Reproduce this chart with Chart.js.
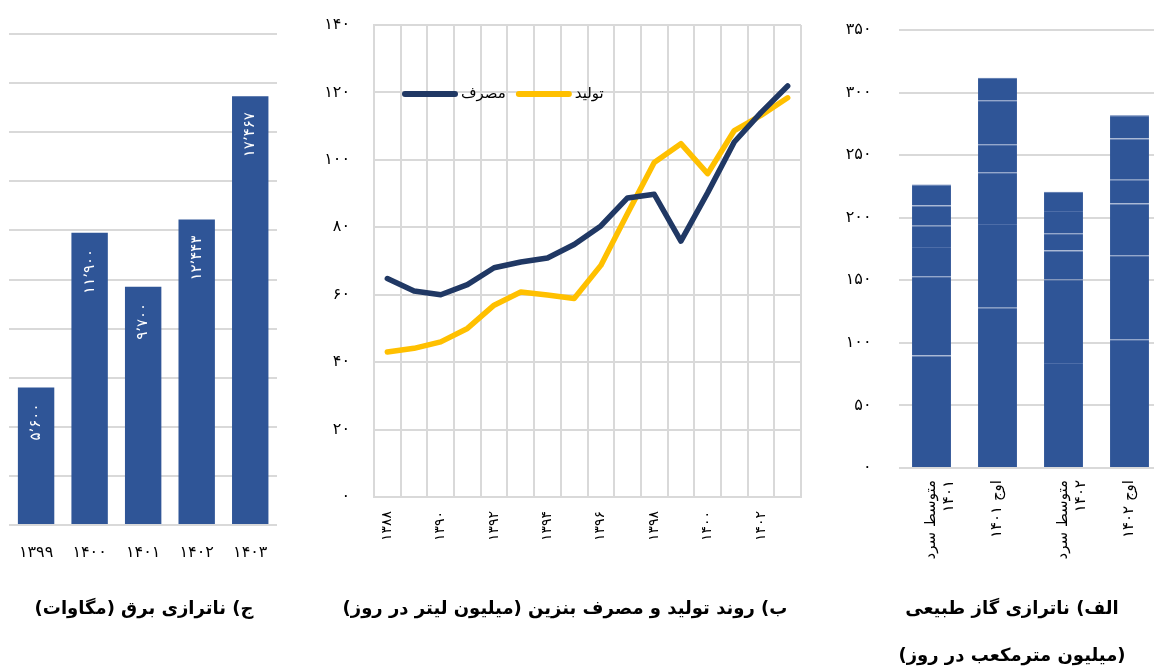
<!DOCTYPE html>
<html>
<head>
<meta charset="utf-8">
<script src="https://cdn.jsdelivr.net/npm/chart.js@4.4.1/dist/chart.umd.min.js"></script>
<style>
  html, body { margin: 0; padding: 0; background: #fff; width: 1154px; height: 671px; overflow: hidden; }
  .panel { position: absolute; top: 0; }
  .title { position: absolute; font-family: "DejaVu Sans"; font-weight: bold; font-size: 18px;
           direction: rtl; white-space: nowrap; transform: translateX(-50%); color: #000; text-align: center; line-height: 47px; }
</style>
</head>
<body>
<div class="panel" style="left:0"><canvas id="power" width="290" height="590"></canvas></div>
<div class="panel" style="left:300px"><canvas id="gasoline" width="520" height="590"></canvas></div>
<div class="panel" style="left:830px"><canvas id="gas" width="340" height="590"></canvas></div>

<div class="title" style="left:144px; top:584px">ج) ناترازی برق (مگاوات)</div>
<div class="title" style="left:565px; top:584px">ب) روند تولید و مصرف بنزین (میلیون لیتر در روز)</div>
<div class="title" style="left:1012px; top:584px">الف) ناترازی گاز طبیعی<br>(میلیون مترمکعب در روز)</div>

<script>
// electricity imbalance (MW)
const powerYears = ['1399', '1400', '1401', '1402', '1403'];
const powerDeficit = [5600, 11900, 9700, 12443, 17467];

// gasoline, million litres per day
const gasolineYears = ['1388', '1389', '1390', '1391', '1392', '1393', '1394', '1395',
                       '1396', '1397', '1398', '1399', '1400', '1401', '1402', '1403'];
const consumption = [64.8, 61.1, 60.0, 63.0, 68.0, 69.7, 70.9, 74.9, 80.4, 88.7, 89.8, 75.9, 90.2, 105.3, 114.0, 121.9];
const production  = [43.0, 44.1, 46.0, 50.0, 56.9, 60.8, 59.9, 58.9, 68.7, 84.1, 99.2, 104.8, 95.9, 108.7, 113.2, 118.4];

// natural gas imbalance, million m3 per day (stacked parts, bottom to top)
const gasCategories = [['متوسط سرد', '1401'], 'اوج 1401', ['متوسط سرد', '1402'], 'اوج 1402'];
const gasPart1 = [89.8, 128.0, 84.0, 102.9];
const gasPart2 = [63.5, 66.9, 66.9, 67.2];
const gasPart3 = [23.2, 41.5, 22.9, 41.3];
const gasPart4 = [17.1, 22.3, 13.7, 18.9];
const gasPart5 = [16.2, 35.1, 17.8, 33.0];
const gasPart6 = [16.8, 18.0, 15.5, 18.6];

const BLUE = '#2F5597';
const GRID = '#D9D9D9';
const FONT = 'DejaVu Sans';

const fa = s => String(s).replace(/\d/g, d => '۰۱۲۳۴۵۶۷۸۹'[d]);
const faNum = n => fa(n.toLocaleString('en-US')).replace(/,/g, '٬');
const faLabel = l => Array.isArray(l) ? l.map(fa) : fa(l);
const noPad = s => { s.paddingTop = 0; s.paddingBottom = 0; };

// white rotated value labels inside bars
const barLabels = {
  id: 'barLabels',
  afterDatasetsDraw(chart) {
    const ctx = chart.ctx;
    const ds = chart.data.datasets[0];
    ctx.save();
    ctx.fillStyle = '#fff';
    ctx.font = '15px "' + FONT + '"';
    ctx.textAlign = 'right';
    ctx.textBaseline = 'middle';
    chart.getDatasetMeta(0).data.forEach((bar, i) => {
      ctx.save();
      ctx.translate(bar.x, bar.y + 16);
      ctx.rotate(-Math.PI / 2);
      ctx.fillText(faNum(ds.data[i]), 0, 0);
      ctx.restore();
    });
    ctx.restore();
  }
};

// legend drawn inside the plot area
const innerLegend = {
  id: 'innerLegend',
  afterDraw(chart) {
    const ctx = chart.ctx;
    const area = chart.chartArea;
    let x = area.left + 28;
    const y = area.top + 69;
    ctx.save();
    ctx.font = '15px "' + FONT + '"';
    ctx.textBaseline = 'middle';
    ctx.textAlign = 'left';
    chart.data.datasets.forEach(ds => {
      ctx.strokeStyle = ds.borderColor;
      ctx.lineWidth = 6;
      ctx.lineCap = 'round';
      ctx.beginPath();
      ctx.moveTo(x + 3, y);
      ctx.lineTo(x + 53, y);
      ctx.stroke();
      x += 59;
      ctx.fillStyle = '#000';
      ctx.fillText(ds.label, x, y);
      x += ctx.measureText(ds.label).width + 10;
    });
    ctx.restore();
  }
};

new Chart(document.getElementById('power'), {
  type: 'bar',
  data: {
    labels: powerYears.map(fa),
    datasets: [{
      label: 'ناترازی برق',
      data: powerDeficit,
      backgroundColor: BLUE,
      barPercentage: 0.68,
      categoryPercentage: 1
    }]
  },
  options: {
    responsive: false,
    animation: false,
    layout: { padding: { left: 9, right: 13, top: 34, bottom: 0 } },
    plugins: { legend: { display: false }, tooltip: { enabled: false } },
    scales: {
      x: {
        grid: { display: false, drawTicks: false },
        border: { display: false },
        ticks: { color: '#000', font: { family: FONT, size: 16 }, padding: 18 },
        afterFit: s => { s.height = 65; }
      },
      y: {
        min: 0, max: 20000,
        ticks: { stepSize: 2000, display: false },
        grid: { color: GRID, lineWidth: 2, drawTicks: false },
        border: { display: false },
        afterFit: s => { s.width = 0; noPad(s); }
      }
    }
  },
  plugins: [barLabels]
});

new Chart(document.getElementById('gasoline'), {
  type: 'line',
  data: {
    labels: gasolineYears.map(fa),
    datasets: [
      { label: 'مصرف', data: consumption, borderColor: '#203864', backgroundColor: '#203864',
        borderWidth: 5.5, pointRadius: 0, tension: 0, borderCapStyle: 'round', borderJoinStyle: 'round' },
      { label: 'تولید', data: production, borderColor: '#FFC000', backgroundColor: '#FFC000',
        borderWidth: 5.5, pointRadius: 0, tension: 0, borderCapStyle: 'round', borderJoinStyle: 'round' }
    ]
  },
  options: {
    responsive: false,
    animation: false,
    layout: { padding: { left: 0, right: 19, top: 25, bottom: 0 } },
    plugins: { legend: { display: false }, tooltip: { enabled: false } },
    scales: {
      x: {
        offset: true,
        grid: { color: GRID, lineWidth: 2, offset: true, drawTicks: false },
        border: { color: GRID, width: 2 },
        ticks: {
          color: '#000', font: { family: FONT, size: 14 }, padding: 14,
          minRotation: 90, maxRotation: 90, autoSkip: false,
          callback: function (v, i) { return i % 2 === 0 ? this.getLabelForValue(v) : ''; }
        },
        afterFit: s => { s.height = 93; }
      },
      y: {
        min: 0, max: 140,
        grid: { color: GRID, lineWidth: 2, drawTicks: false },
        border: { color: GRID, width: 2 },
        ticks: { stepSize: 20, color: '#000', font: { family: FONT, size: 16 }, padding: 24,
                 callback: v => fa(v) },
        afterFit: s => { s.width = 74; noPad(s); }
      }
    }
  },
  plugins: [innerLegend]
});

const gasParts = [gasPart1, gasPart2, gasPart3, gasPart4, gasPart5, gasPart6];
new Chart(document.getElementById('gas'), {
  type: 'bar',
  data: {
    labels: gasCategories.map(faLabel),
    datasets: gasParts.map((part, k) => ({
      label: 'part ' + (k + 1),
      data: part,
      backgroundColor: BLUE,
      borderColor: '#4D6DA8',
      borderWidth: { top: 1, left: 0, right: 0, bottom: 0 },
      borderSkipped: false,
      barPercentage: 0.59,
      categoryPercentage: 1
    }))
  },
  options: {
    responsive: false,
    animation: false,
    layout: { padding: { left: 0, right: 7.5, top: 30, bottom: 0 } },
    plugins: { legend: { display: false }, tooltip: { enabled: false } },
    scales: {
      x: {
        stacked: true,
        grid: { display: false, drawTicks: false },
        border: { display: false },
        ticks: { color: '#000', font: { family: FONT, size: 15 }, padding: 12,
                 minRotation: 90, maxRotation: 90, autoSkip: false },
        afterFit: s => { s.height = 122; }
      },
      y: {
        stacked: true,
        min: 0, max: 350,
        grid: { color: GRID, lineWidth: 2, drawTicks: false },
        border: { display: false },
        ticks: { stepSize: 50, color: '#000', font: { family: FONT, size: 16 }, padding: 27,
                 callback: v => fa(v) },
        afterFit: s => { s.width = 68.5; noPad(s); }
      }
    }
  }
});
</script>
</body>
</html>
